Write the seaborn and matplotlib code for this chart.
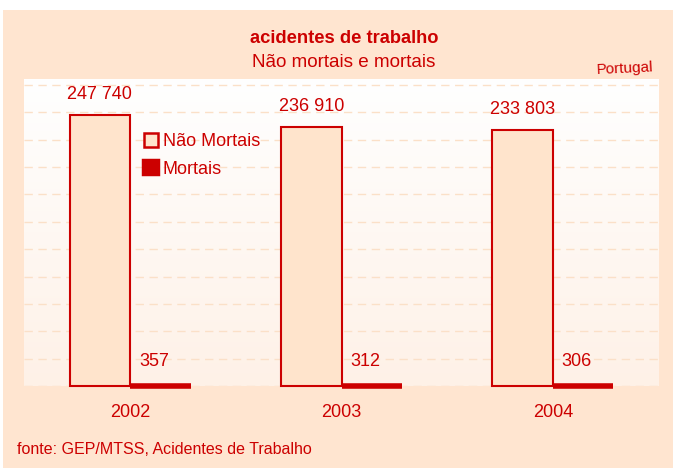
import numpy as np
import pandas as pd
import matplotlib
matplotlib.use("Agg")
import matplotlib.pyplot as plt
from matplotlib.patches import Patch, Rectangle
import seaborn as sns

# ---- data ----
anos = ["2002", "2003", "2004"]
nao_mortais = [247740, 236910, 233803]
mortais = [357, 312, 306]
series = ["Não Mortais", "Mortais"]
grid_step = 25000

title = "acidentes de trabalho"
subtitle = "Não mortais e mortais"
region = "Portugal"
source = "fonte: GEP/MTSS, Acidentes de Trabalho"

# ---- style ----
RED = "#CC0000"
CREAM = "#FFE5D0"
BARFILL = "#FFE4CC"
GRID = "#FBE0C8"

sns.set_style("white")
plt.rcParams["font.family"] = ["Liberation Sans", "DejaVu Sans"]

W, H = 673, 468
fig = plt.figure(figsize=(W / 100, H / 100), dpi=100)
fig.patch.set_facecolor("white")
fig.add_artist(Rectangle((3 / W, 0), 1 - 3 / W, (H - 10) / H,
                         transform=fig.transFigure, facecolor=CREAM,
                         edgecolor="none", zorder=-5))

L, R, T, B = 24, 659, 79, 386
ax = fig.add_axes([L / W, (H - B) / H, (R - L) / W, (B - T) / H])

df = pd.DataFrame({
    "ano": anos * 2,
    "tipo": [series[0]] * len(anos) + [series[1]] * len(anos),
    "valor": nao_mortais + mortais,
})

sns.barplot(data=df, x="ano", y="valor", hue="tipo", order=anos,
            hue_order=series, palette=[BARFILL, RED], saturation=1,
            width=0.572, dodge=True, legend=False, ax=ax, zorder=2)

for p in ax.containers[0]:
    p.set_facecolor(BARFILL)
    p.set_edgecolor(RED)
    p.set_linewidth(1.5)
    p.set_clip_on(False)
for p in ax.containers[1]:
    p.set_edgecolor(RED)
    p.set_facecolor(RED)
    p.set_linewidth(4)
    p.set_clip_on(False)

xlim = (-0.5021, 2.5017)
ylim = (0, 280500)

# gradient background of plot area
grad = np.linspace(0, 1, 256).reshape(-1, 1)
top = np.array([1.0, 1.0, 1.0])
bot = np.array([254, 241, 231]) / 255
img = (bot[None, None, :] * (1 - grad[..., None]) + top[None, None, :] * grad[..., None])
img = img[::-1]
ax.imshow(img, extent=[xlim[0], xlim[1], ylim[0], ylim[1]], aspect="auto",
          zorder=0, origin="upper")

ax.set_xlim(*xlim)
ax.set_ylim(*ylim)

ax.set_yticks(np.arange(0, 275001, grid_step))
ax.set_yticklabels([])
ax.tick_params(axis="y", length=0)
ax.grid(axis="y", color=GRID, linestyle=(0, (6, 4)), linewidth=1)
ax.grid(axis="x", visible=False)
ax.set_axisbelow(True)
for s in ax.spines.values():
    s.set_visible(False)

ax.set_xlabel("")
ax.set_ylabel("")
ax.tick_params(axis="x", length=0, pad=12.7, labelsize=13, labelcolor=RED)

# value labels
for p, v in zip(ax.containers[0], nao_mortais):
    ax.annotate(f"{v:,}".replace(",", " "),
                (p.get_x() + p.get_width() / 2, p.get_height()),
                xytext=(0, 11.3), textcoords="offset points",
                ha="center", va="baseline", fontsize=13, color=RED)
for p, v in zip(ax.containers[1], mortais):
    ax.annotate(f"{v:,}".replace(",", " "),
                (p.get_x() + p.get_width() / 2, p.get_height()),
                xytext=(-4.5, 14.4), textcoords="offset points",
                ha="center", va="baseline", fontsize=13, color=RED)

# legend
handles = [Patch(facecolor=BARFILL, edgecolor=RED, linewidth=1.8),
           Patch(facecolor=RED, edgecolor=RED, linewidth=3.2)]
ax.legend(handles, series, loc="upper left",
          bbox_to_anchor=(144 / W, 1 - 133 / H), bbox_transform=fig.transFigure,
          frameon=False, fontsize=13, labelcolor=RED,
          handlelength=0.78, handleheight=0.78, handletextpad=0.25,
          labelspacing=0.58, borderpad=0, borderaxespad=0)

# titles and notes
fig.text(344 / W, 1 - 43.3 / H, title, ha="center", va="baseline",
         fontsize=13.2, fontweight="bold", color=RED)
fig.text(344 / W, 1 - 66.7 / H, subtitle, ha="center", va="baseline",
         fontsize=13.6, color=RED)
fig.text(625 / W, 1 - 69 / H, region, ha="center", va="center",
         fontsize=11, color=RED, rotation=2.7, rotation_mode="anchor")
fig.text(16.7 / W, 1 - 454 / H, source, ha="left", va="baseline",
         fontsize=11.5, color=RED)

fig.savefig("out.png", dpi=100, facecolor=fig.get_facecolor())
